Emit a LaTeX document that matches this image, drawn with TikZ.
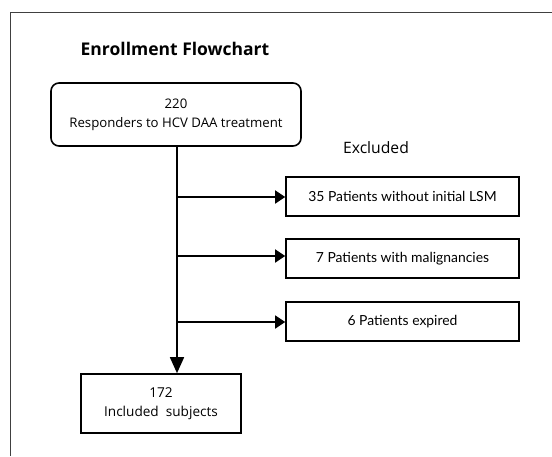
\documentclass[tikz,border=0pt]{standalone}
\usepackage{fontspec}
\setmainfont{Open Sans}
\newfontfamily\latofont{Lato}
\usetikzlibrary{arrows.meta, positioning}

\begin{document}
\begin{tikzpicture}[x=1pt,y=-1pt,
			line width=1.6pt,
			startbox/.style = {draw,rounded corners=8pt,align=center,minimum width=250pt,minimum height=63pt,font=\fontsize{13.2}{19}\selectfont},
			exbox/.style = {draw,align=center,minimum width=233pt,minimum height=39pt,font=\latofont\fontsize{13.9}{16}\selectfont},
			endbox/.style = {draw,align=center,minimum width=160pt,minimum height=59pt,font=\fontsize{13.6}{19}\selectfont},
			branch/.style = {-{Triangle[length=10pt,width=13pt]}},
			mainarr/.style = {-{Triangle[length=16pt,width=14pt]}}]
			\useasboundingbox (0,0) rectangle (552,456);
			\draw[line width=0.8pt, black!75] (10,456) |- (552,12);
			\node [font=\bfseries\fontsize{17.5}{20}\selectfont] (title) at (175,49) {Enrollment Flowchart};
			\node [startbox] (start) at (176,114.5) {220\\Responders to HCV DAA treatment};
			\node [font=\fontsize{15.7}{18}\selectfont] (excl) at (376,148) {Excluded};
			\node [exbox] (ex1) at (402.5,196.5) {35 Patients without initial LSM};
			\node [exbox] (ex2) at (402.5,258.5) {7 Patients with malignancies};
			\node [exbox] (ex3) at (402.5,321.5) {6 Patients expired};
			\node [endbox] (incl) at (161,403.5) {172\\Included\ \ subjects};
			% main line and branches
			\coordinate (b1) at (177,197);
			\coordinate (b2) at (177,256);
			\coordinate (b3) at (177,322);
			\draw[mainarr] (start.south -| b1) -- (incl.north -| b1);
			\draw[branch] (b1) -- (b1 -| ex1.west);
			\draw[branch] (b2) -- (b2 -| ex2.west);
			\draw[branch] (b3) -- (b3 -| ex3.west);
		\end{tikzpicture}
\end{document}
